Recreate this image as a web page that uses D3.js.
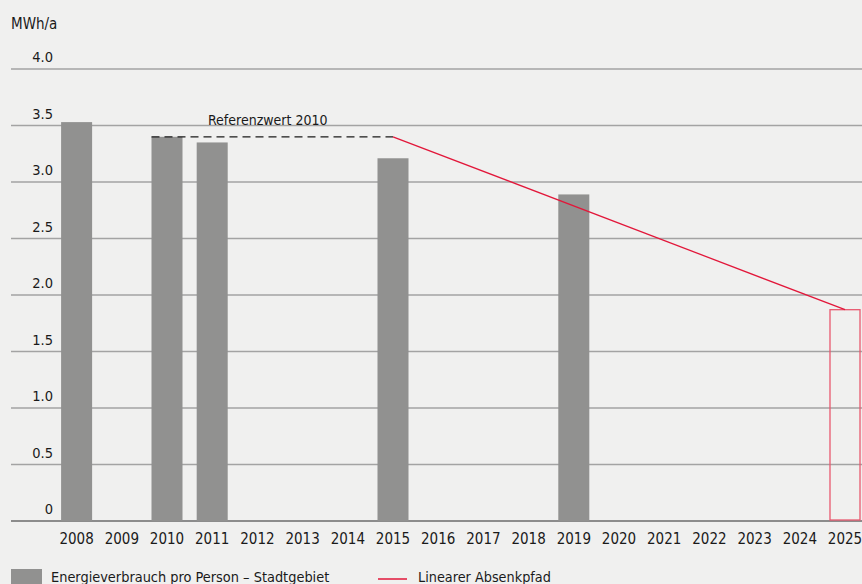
<!DOCTYPE html>
<html>
<head>
<meta charset="utf-8">
<script src="https://cdn.jsdelivr.net/npm/d3@7"></script>
<style>
  body { margin: 0; background: #f0f0ef; }
  svg { display: block; font-family: "Liberation Sans Narrow", "DejaVu Sans Condensed", "Roboto", sans-serif; }
</style>
</head>
<body>
<div id="chart"></div>
<script>
// years on the x axis
var years = ['2008','2009','2010','2011','2012','2013','2014','2015','2016','2017','2018','2019','2020','2021','2022','2023','2024','2025'];
// measured consumption per person (MWh/a)
var barYears = ['2008','2010','2011','2015','2019'];
var barValues = [3.53, 3.40, 3.35, 3.21, 2.89];
// reference value and target
var refValue = 3.40;
var refStartYear = '2010';
var refEndYear = '2015';
var targetYear = '2025';
var targetValue = 1.87;
// y ticks
var yTicks = [0, 0.5, 1.0, 1.5, 2.0, 2.5, 3.0, 3.5, 4.0];

var width = 862, height = 584;
var svg = d3.select('#chart').append('svg')
    .attr('width', width).attr('height', height);

var x = d3.scaleBand()
    .domain(years)
    .range([54, 867.6])
    .paddingInner(0.314)
    .paddingOuter(0.157);

var y = d3.scaleLinear()
    .domain([0, 4])
    .range([521, 69]);

// grid lines
svg.selectAll('.grid')
    .data(yTicks)
    .enter().append('line')
    .attr('class', 'grid')
    .attr('x1', 11).attr('x2', width)
    .attr('y1', function(d){ return y(d); })
    .attr('y2', function(d){ return y(d); })
    .attr('stroke', function(d){ return d === 0 ? '#8c8c8c' : '#a3a3a3'; })
    .attr('stroke-width', function(d){ return d === 0 ? 2 : 1.3; });

// y tick labels
svg.selectAll('.ylab')
    .data(yTicks)
    .enter().append('text')
    .attr('class', 'ylab')
    .attr('x', 53)
    .attr('y', function(d){ return y(d) - 7; })
    .attr('text-anchor', 'end')
    .style('font-size', '14.5px')
    .attr('fill', '#1a1a1a')
    .text(function(d){ return d === 0 ? '0' : d3.format('.1f')(d); });

svg.append('text')
    .attr('x', 11).attr('y', 28.5)
    .style('font-size', '15px')
    .attr('fill', '#1a1a1a')
    .text('MWh/a');

// bars
svg.selectAll('.bar')
    .data(barValues)
    .enter().append('rect')
    .attr('class', 'bar')
    .attr('x', function(d, i){ return x(barYears[i]); })
    .attr('y', function(d){ return y(d); })
    .attr('width', x.bandwidth())
    .attr('height', function(d){ return y(0) - y(d); })
    .attr('fill', '#919190');

// target box 2025
svg.append('rect')
    .attr('x', x(targetYear) + 0.5)
    .attr('y', y(targetValue))
    .attr('width', x.bandwidth() - 1)
    .attr('height', y(0) - y(targetValue) - 1)
    .attr('fill', 'none')
    .attr('stroke', '#e8596f')
    .attr('stroke-width', 1.3);

// reference dashed line
svg.append('line')
    .attr('x1', x(refStartYear))
    .attr('x2', x(refEndYear) + x.bandwidth() / 2)
    .attr('y1', y(refValue)).attr('y2', y(refValue))
    .attr('stroke', '#1a1a1a')
    .attr('stroke-width', 1.2)
    .attr('stroke-dasharray', '8,5');

svg.append('text')
    .attr('x', 208).attr('y', 125)
    .style('font-size', '14px')
    .attr('fill', '#1a1a1a')
    .text('Referenzwert 2010');

// linear reduction path
svg.append('line')
    .attr('x1', x(refEndYear) + x.bandwidth() / 2)
    .attr('y1', y(refValue))
    .attr('x2', x(targetYear) + x.bandwidth() / 2)
    .attr('y2', y(targetValue))
    .attr('stroke', '#e2173a')
    .attr('stroke-width', 1.3);

// x labels
svg.selectAll('.xlab')
    .data(years)
    .enter().append('text')
    .attr('class', 'xlab')
    .attr('x', function(d){ return x(d) + x.bandwidth() / 2; })
    .attr('y', 544)
    .attr('text-anchor', 'middle')
    .style('font-size', '15px')
    .attr('fill', '#1a1a1a')
    .text(function(d){ return d; });

// legend
svg.append('rect')
    .attr('x', 11).attr('y', 569)
    .attr('width', 31).attr('height', 16)
    .attr('fill', '#919190');
svg.append('text')
    .attr('x', 51).attr('y', 582)
    .style('font-size', '14.4px')
    .attr('fill', '#1a1a1a')
    .text('Energieverbrauch pro Person – Stadtgebiet');

svg.append('line')
    .attr('x1', 378).attr('x2', 407)
    .attr('y1', 579).attr('y2', 579)
    .attr('stroke', '#e2173a')
    .attr('stroke-width', 1.5);
svg.append('text')
    .attr('x', 418).attr('y', 582)
    .style('font-size', '14.3px')
    .attr('fill', '#1a1a1a')
    .text('Linearer Absenkpfad');
</script>
</body>
</html>
